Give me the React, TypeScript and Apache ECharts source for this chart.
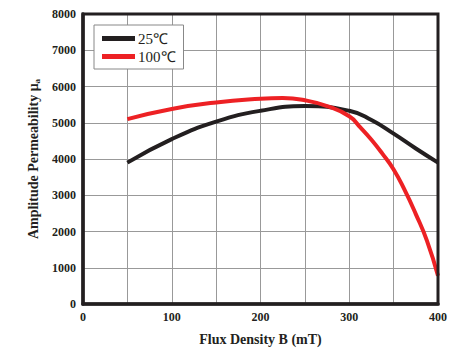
import React, { useEffect, useRef } from "react";
import * as echarts from "echarts";

const fluxBlack = [50, 100, 150, 200, 250, 300, 325, 350, 375, 400];
const mu25 = [3900, 4550, 5030, 5330, 5460, 5330, 5075, 4700, 4290, 3900];
const fluxRed = [50, 100, 150, 200, 225, 250, 275, 300, 312.5, 325, 337.5, 350, 362.5, 375, 387.5, 400];
const mu100 = [5100, 5380, 5560, 5660, 5680, 5620, 5460, 5180, 4870, 4530, 4140, 3710, 3140, 2480, 1750, 780];
const seriesNames = ["25℃", "100℃"];

const FONT = "'Liberation Serif', 'Times New Roman', serif";

export default function App() {
  const ref = useRef<HTMLDivElement>(null);
  useEffect(() => {
    if (!ref.current) return;
    const chart = echarts.init(ref.current, undefined, { renderer: "svg" });
    chart.setOption({
      animation: false,
      grid: {
        left: 83,
        right: 9,
        top: 14,
        bottom: 49,
        show: true,
        borderColor: "#231f20",
        borderWidth: 3,
        backgroundColor: "transparent",
        z: 5,
      },
      legend: {
        orient: "vertical",
        left: 94,
        top: 25,
        padding: [6, 8, 5, 8],
        backgroundColor: "#fff",
        borderColor: "#888",
        borderWidth: 1,
        borderRadius: 0,
        itemWidth: 33,
        itemHeight: 5,
        itemGap: 3,
        icon: "rect",
        textStyle: { fontFamily: FONT, fontSize: 15, color: "#231f20", padding: [0, 0, 0, -2] },
        data: seriesNames,
      },
      xAxis: {
        type: "value",
        min: 0,
        max: 400,
        interval: 50,
        name: "Flux Density B (mT)",
        nameLocation: "middle",
        nameGap: 28,
        nameTextStyle: { fontFamily: FONT, fontWeight: "bold", fontSize: 14, color: "#231f20" },
        axisLine: { show: true, lineStyle: { color: "#231f20", width: 3.5 } },
        axisTick: { show: false },
        axisLabel: {
          margin: 7,
          fontFamily: FONT,
          fontWeight: "bold",
          fontSize: 12,
          color: "#231f20",
          formatter: (v: number) => (v % 100 === 0 ? String(v) : ""),
        },
        splitLine: { show: true, lineStyle: { color: "#999", width: 1 } },
      },
      yAxis: {
        type: "value",
        min: 0,
        max: 8000,
        interval: 1000,
        name: "{t|Amplitude Permeability μ}{s|a}",
        nameLocation: "middle",
        nameGap: 33,
        nameTextStyle: {
          rich: {
            t: { fontFamily: FONT, fontWeight: "bold", fontSize: 14, color: "#231f20" },
            s: { fontFamily: FONT, fontWeight: "bold", fontSize: 9, color: "#231f20", padding: [6, 0, 0, 0] },
          },
        },
        axisLine: { show: true, lineStyle: { color: "#231f20", width: 3.5 } },
        axisTick: { show: false },
        axisLabel: {
          margin: 7,
          fontFamily: FONT,
          fontWeight: "bold",
          fontSize: 12,
          color: "#231f20",
          formatter: (v: number) => String(v),
        },
        splitLine: { show: true, lineStyle: { color: "#999", width: 1 } },
      },
      series: [
        {
          name: seriesNames[0],
          type: "line",
          smooth: 0.5,
          symbol: "none",
          data: fluxBlack.map((x, i) => [x, mu25[i]]),
          lineStyle: { color: "#231f20", width: 4 },
          itemStyle: { color: "#231f20" },
        },
        {
          name: seriesNames[1],
          type: "line",
          smooth: 0.5,
          symbol: "none",
          data: fluxRed.map((x, i) => [x, mu100[i]]),
          lineStyle: { color: "#ed2124", width: 4 },
          itemStyle: { color: "#ed2124" },
        },
      ],
    });
    return () => chart.dispose();
  }, []);
  return <div ref={ref} style={{ width: 450, height: 353, position: "absolute", left: 0, top: 0 }} />;
}
